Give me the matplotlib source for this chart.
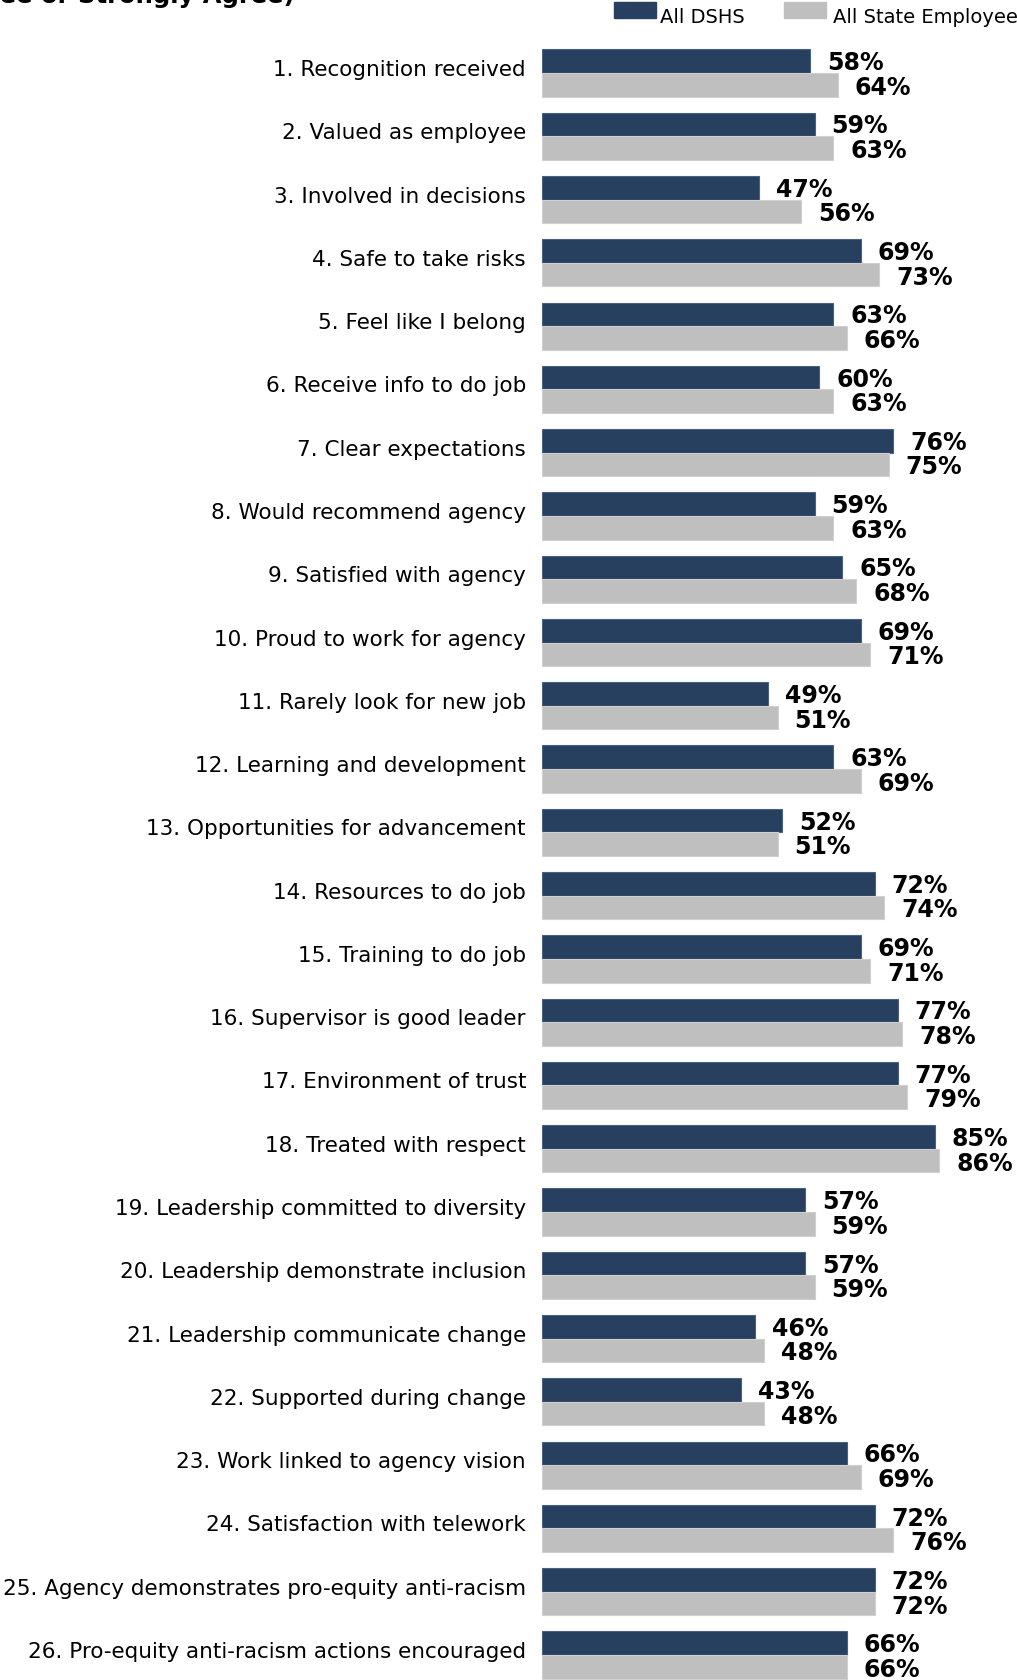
import matplotlib
matplotlib.use("Agg")
import matplotlib.pyplot as plt

categories = [
    "1. Recognition received",
    "2. Valued as employee",
    "3. Involved in decisions",
    "4. Safe to take risks",
    "5. Feel like I belong",
    "6. Receive info to do job",
    "7. Clear expectations",
    "8. Would recommend agency",
    "9. Satisfied with agency",
    "10. Proud to work for agency",
    "11. Rarely look for new job",
    "12. Learning and development",
    "13. Opportunities for advancement",
    "14. Resources to do job",
    "15. Training to do job",
    "16. Supervisor is good leader",
    "17. Environment of trust",
    "18. Treated with respect",
    "19. Leadership committed to diversity",
    "20. Leadership demonstrate inclusion",
    "21. Leadership communicate change",
    "22. Supported during change",
    "23. Work linked to agency vision",
    "24. Satisfaction with telework",
    "25. Agency demonstrates pro-equity anti-racism",
    "26. Pro-equity anti-racism actions encouraged",
]
dshs = [58, 59, 47, 69, 63, 60, 76, 59, 65, 69, 49, 63, 52, 72, 69, 77, 77, 85,
        57, 57, 46, 43, 66, 72, 72, 66]
state = [64, 63, 56, 73, 66, 63, 75, 63, 68, 71, 51, 69, 51, 74, 71, 78, 79, 86,
         59, 59, 48, 48, 69, 76, 72, 66]
series_names = ["All DSHS", "All State Employees"]
title = "Positive Responses (% Agree or Strongly Agree)"

DARK = "#27405f"
GRAY = "#bfbfbf"

W, H = 1017, 1681
fig = plt.figure(figsize=(W / 100, H / 100), dpi=100)

# axes spans bar area; y rows spaced ~63 px, first row centre at 74 px
ax_left = 542 / W
ax = fig.add_axes([ax_left, 0, 1 - ax_left, 1])
row_px = 63.28
first_px = 74.0
ax.set_ylim((H - first_px) / row_px, -first_px / row_px)
ax.set_xlim(0, (W - 542) / 4.62)
ax.axis("off")

bh = 0.373
ys = list(range(len(categories)))
ax.barh([y - bh / 2 for y in ys], dshs, height=bh, color=DARK,
        edgecolor="#4a6282", linewidth=0.8)
ax.barh([y + bh / 2 for y in ys], state, height=bh, color=GRAY,
        edgecolor="#d0d0d0", linewidth=0.8)

val_font = dict(fontsize=17, fontweight="bold", family="DejaVu Sans",
                va="center", ha="left", color="black")
for y, a, b in zip(ys, dshs, state):
    ax.annotate(f"{a}%", (a, y - bh / 2), xytext=(17, -1),
                textcoords="offset pixels", **val_font)
    ax.annotate(f"{b}%", (b, y + bh / 2), xytext=(17, -2),
                textcoords="offset pixels", **val_font)

# category labels, right aligned just left of the bars
for y, c in zip(ys, categories):
    ax.annotate(c, (0, y), xytext=(-16, 4), textcoords="offset pixels",
                ha="right", va="center", fontsize=15.5, family="DejaVu Sans",
                color="black", annotation_clip=False)

# legend drawn as patches in figure pixel coordinates
def fig_xy(px, py):
    return px / W, 1 - py / H

for (x0, x1, tx), col, name in zip([(614, 656, 660), (784, 826, 833)],
                                   [DARK, GRAY], series_names):
    fx, fy = fig_xy(x0, 19)
    fig.patches.append(plt.Rectangle((fx, fy), (x1 - x0) / W, 16 / H,
                                     transform=fig.transFigure, color=col))
    tx_, ty_ = fig_xy(tx, 23)
    fig.text(tx_, ty_, name, fontsize=14, family="DejaVu Sans", ha="left",
             va="baseline", color="black")

# chart title sits mostly above the visible area
tx_, ty_ = fig_xy(295, 3)
fig.text(tx_, ty_, title, fontsize=17.5, fontweight="bold",
         family="DejaVu Sans", ha="right", va="baseline")

fig.savefig("out.png", dpi=100)
